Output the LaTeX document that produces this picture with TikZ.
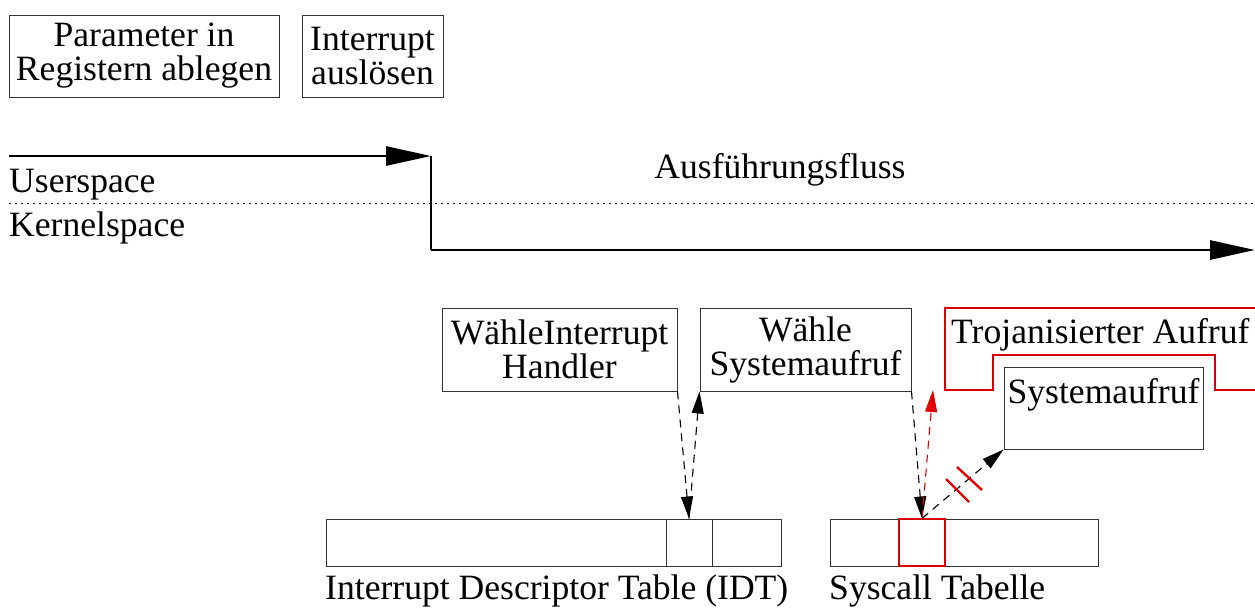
\documentclass[tikz,border=0pt]{standalone}
\usepackage{fontspec}
\setmainfont{Liberation Serif}
\usetikzlibrary{arrows.meta}
\begin{document}
\begin{tikzpicture}[x=1pt,y=-1pt,
  every node/.style={font=\fontsize{35.6}{34}\selectfont, inner sep=0pt},
  box/.style={draw=black!80, line width=1pt, rectangle, align=center},
  thickflow/.style={line width=2.8pt, -{Triangle[length=45pt,width=19pt]}},
  thickline/.style={line width=2.8pt},
  dasharrow/.style={line width=1.1pt, dash pattern=on 8pt off 6pt, -{Triangle[length=22pt,width=12pt]}},
  redc/.style={draw=red!85!black}]
\useasboundingbox (0,0) rectangle (1255,608);
% top boxes
\node[box, minimum width=270pt, minimum height=82pt] (param) at (144,56) {Parameter in\\Registern ablegen};
\node[box, minimum width=141pt, minimum height=82pt] (intr) at (372.5,56) {Interrupt\\auslösen};
% execution flow
\coordinate (u0) at (9,156);
\coordinate (u1) at (431,156);
\coordinate (k1) at (431,250);
\coordinate (k2) at (1255,250);
\draw[thickflow] (u0) -- (u1);
\draw[thickline] (u1) -- (k1);
\draw[thickflow] (k1) -- (k2);
\coordinate (d0) at (9,203);
\coordinate (d1) at (1255,203);
\draw[line width=1pt, dash pattern=on 1.6pt off 4.4pt] (d0) -- (d1);
\node[anchor=base west] (user) at (9,192) {Userspace};
\node[anchor=base west] (kern) at (9,236) {Kernelspace};
\node[anchor=base] (flow) at (780,178) {Ausführungsfluss};
% middle boxes
\node[box, minimum width=235pt, minimum height=83pt] (whandler) at (559.5,349.5) {WähleInterrupt\\Handler};
\node[box, minimum width=211pt, minimum height=83pt] (wsys) at (805.5,349.5) {Wähle\\Systemaufruf};
% trojan shape
\draw[redc, line width=1.1pt] (1255,308) -- (945,308) -- (945,390) -- (993,390) -- (993,355) -- (1215,355) -- (1215,390) -- (1255,390);
\node[anchor=base west] (troj) at (951,343) {Trojanisierter Aufruf};
\node[box, minimum width=199pt, minimum height=82pt] (sysbox) at (1103.5,408) {};
\node[anchor=base] (systxt) at (1103.5,403) {Systemaufruf};
% tables
\node[box, minimum width=455pt, minimum height=47pt] (idt) at (553.5,542.5) {};
\node[box, minimum width=46pt, minimum height=47pt] (idtcell) at (689,542.5) {};
\node[box, minimum width=268pt, minimum height=47pt] (sct) at (964,542.5) {};
\node[draw=red!85!black, line width=1.1pt, minimum width=46pt, minimum height=47pt] (sccell) at (922,542.5) {};
\node[anchor=base west] (idtlbl) at (325,599) {Interrupt Descriptor Table (IDT)};
\node[anchor=base west] (sctlbl) at (829,599) {Syscall Tabelle};
% dashed arrows
\draw[dasharrow] (whandler.south east) -- (idtcell.north);
\draw[dasharrow] (idtcell.north) -- (wsys.south west);
\draw[dasharrow] (wsys.south east) -- (sccell.north);
\coordinate (redtip) at (933,390);
\draw[dasharrow, red!90!black] (sccell.north) -- (redtip);
\draw[dasharrow] (sccell.north) -- (sysbox.south west);
% strike marks
\draw[red!90!black, line width=2.4pt] (946,479) -- (969,502);
\draw[red!90!black, line width=2.4pt] (957,467) -- (982,490);
\end{tikzpicture}
\end{document}
